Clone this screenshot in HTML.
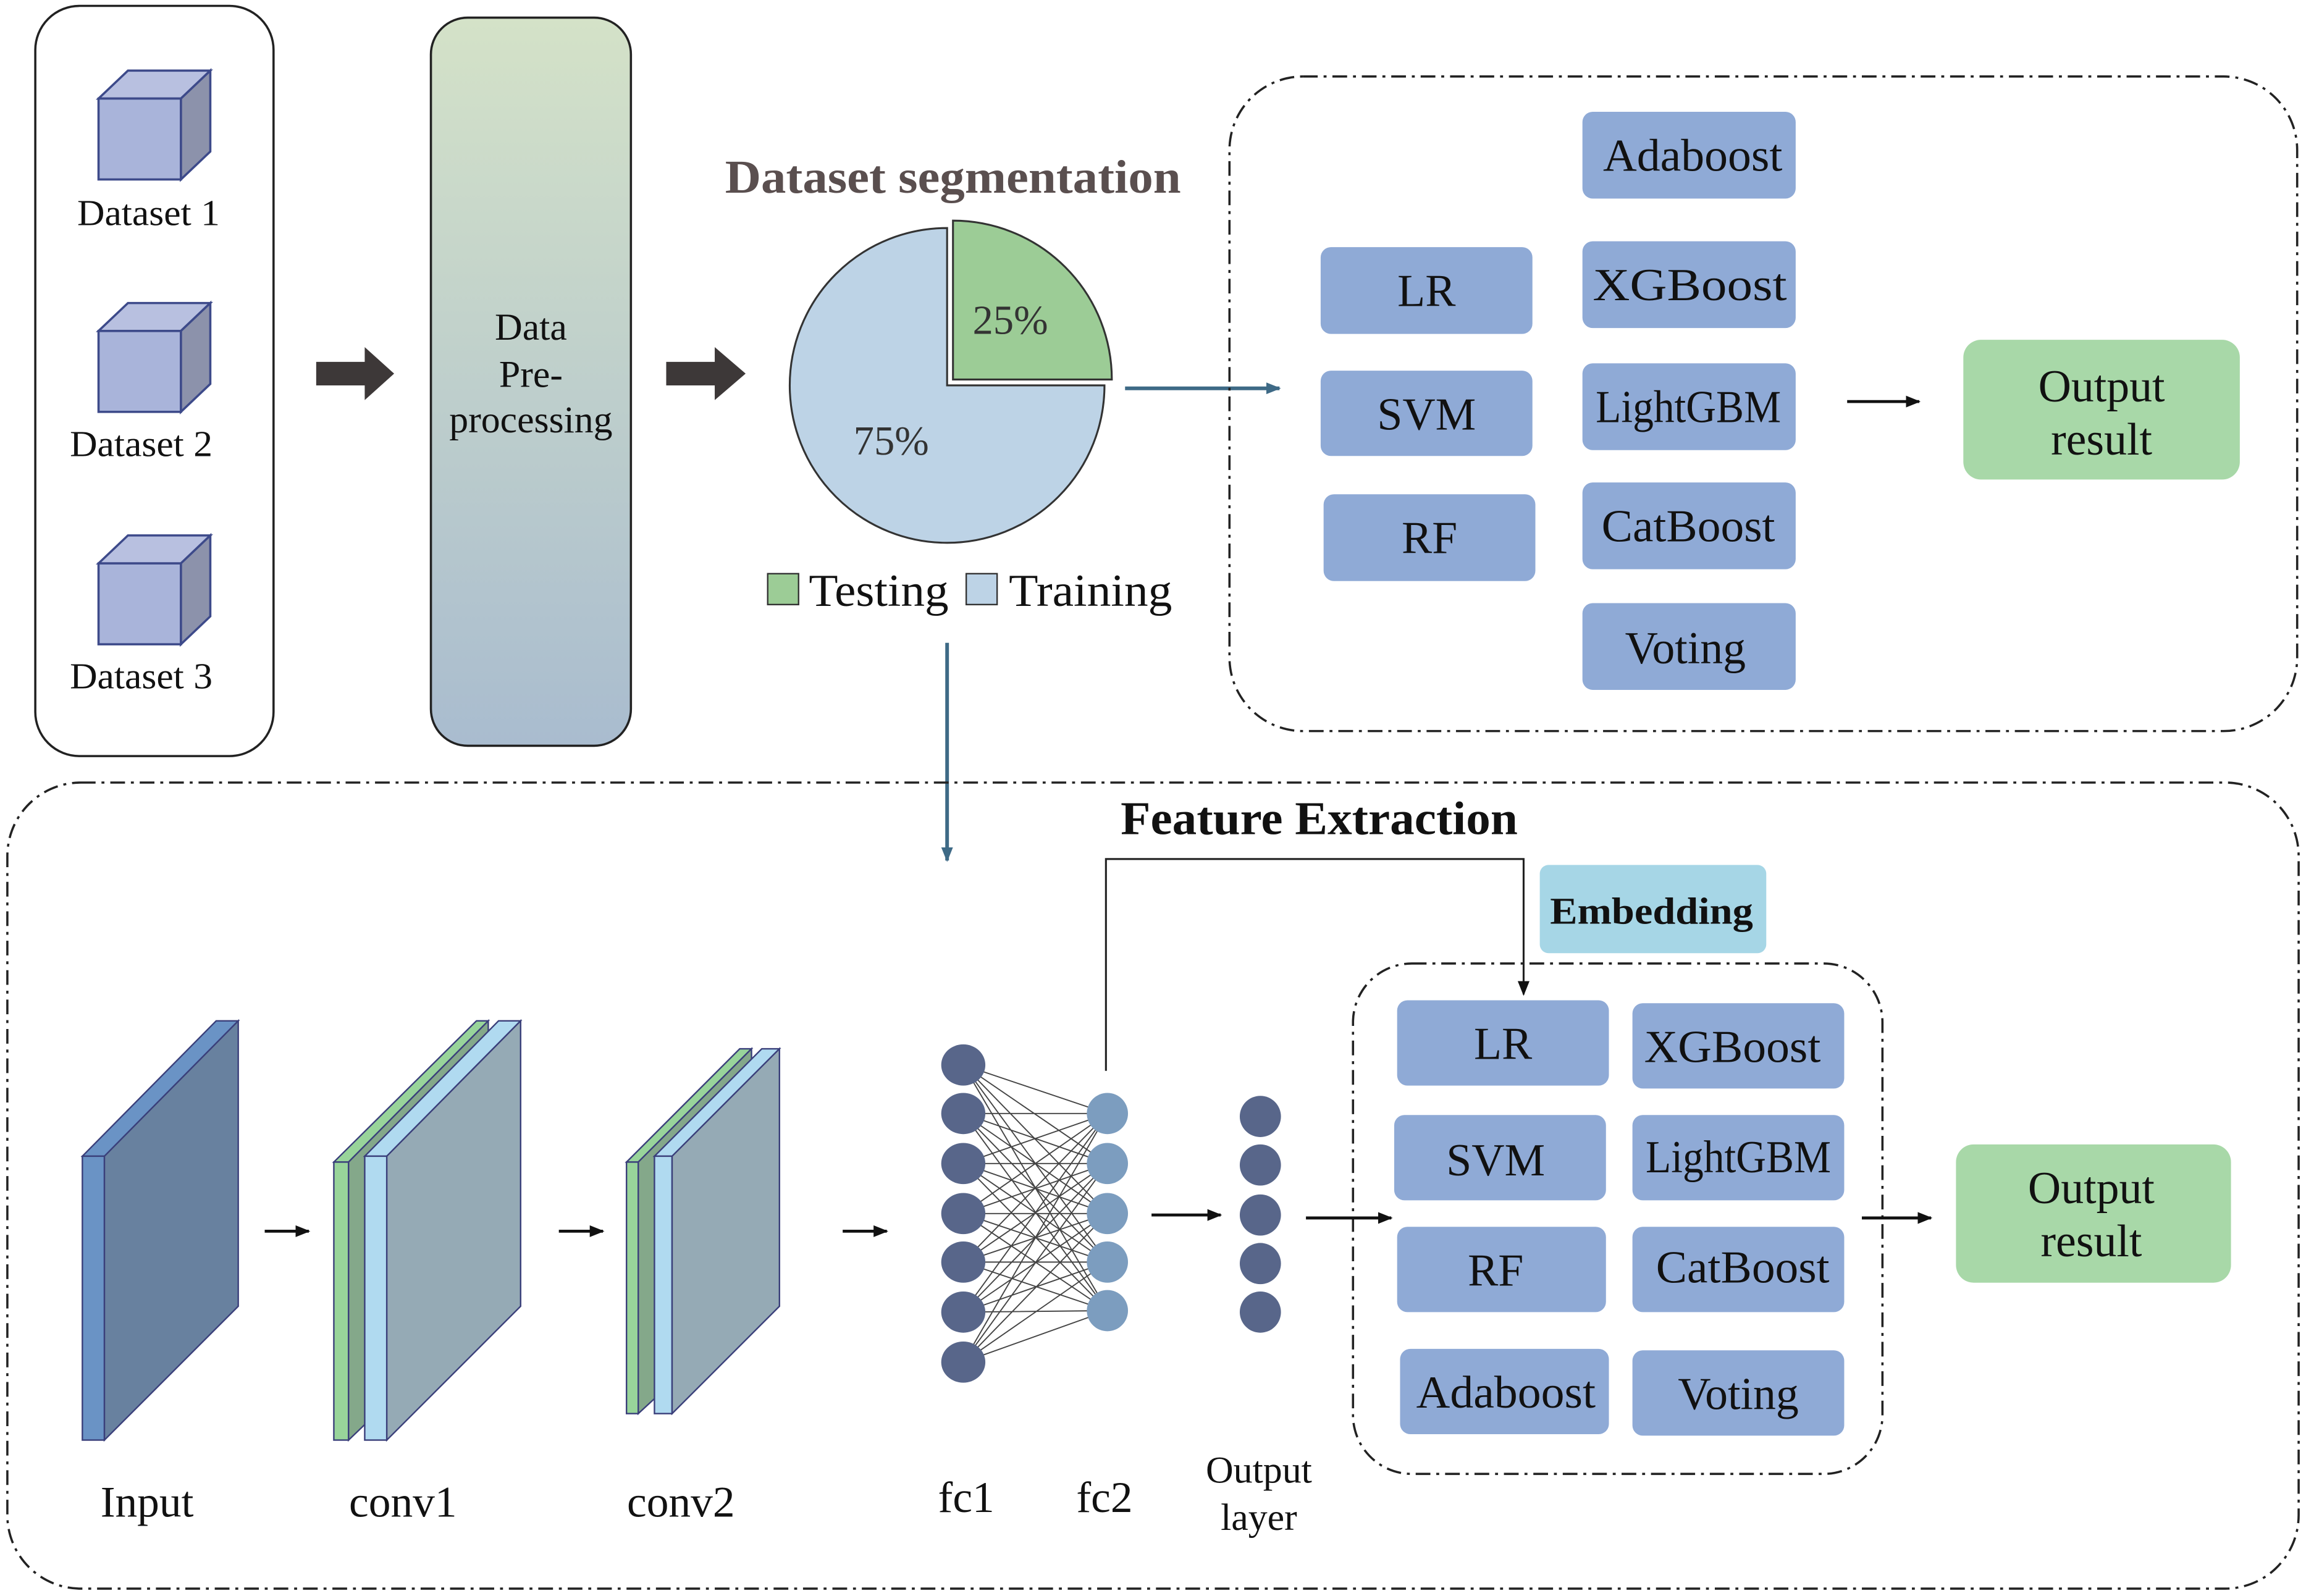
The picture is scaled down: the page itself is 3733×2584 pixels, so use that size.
<!DOCTYPE html>
<html><head><meta charset="utf-8"><style>html,body{margin:0;padding:0;background:#fff}svg{display:block}</style></head><body>
<svg width="3733" height="2584" viewBox="0 0 1568 1085" preserveAspectRatio="none" xmlns="http://www.w3.org/2000/svg" font-family="Liberation Serif, serif">
<defs>
<linearGradient id="pg" x1="0" y1="0" x2="0" y2="1"><stop offset="0" stop-color="#d4e2c8"/><stop offset="1" stop-color="#a9bccf"/></linearGradient>
<marker id="ab" markerWidth="10" markerHeight="10" refX="9" refY="5" orient="auto" markerUnits="userSpaceOnUse"><path d="M0,1 L10,5 L0,9 z" fill="#3e6a86"/></marker>
<marker id="ak" markerWidth="10" markerHeight="10" refX="9" refY="5" orient="auto" markerUnits="userSpaceOnUse"><path d="M0,1 L10,5 L0,9 z" fill="#111"/></marker>
</defs>
<rect width="1568" height="1085" fill="#fff"/>
<rect x="24" y="4" width="162" height="510" rx="30" fill="none" stroke="#222" stroke-width="1.5"/>
<g stroke="#3d4a8a" stroke-width="1.5">
<g id="cube"><polygon points="67,67 87,48 143,48 123,67" fill="#b8c0e0"/><polygon points="123,67 143,48 143,103 123,122" fill="#8c92ab"/><rect x="67" y="67" width="56" height="55" fill="#a9b4da"/></g>
<use href="#cube" y="158"/><use href="#cube" y="316"/>
</g>
<g font-size="25" text-anchor="middle" fill="#111">
<text x="101" y="153" textLength="97" lengthAdjust="spacingAndGlyphs">Dataset 1</text><text x="96" y="310" textLength="97" lengthAdjust="spacingAndGlyphs">Dataset 2</text><text x="96" y="468" textLength="97" lengthAdjust="spacingAndGlyphs">Dataset 3</text>
</g>
<g fill="#3d3838">
<polygon points="215,246 248,246 248,236 268,254 248,272 248,262 215,262"/>
<polygon points="453,246 486,246 486,236 507,254 486,272 486,262 453,262"/>
</g>
<rect x="293" y="12" width="136" height="495" rx="25" fill="url(#pg)" stroke="#222" stroke-width="1.5"/>
<g font-size="26" text-anchor="middle" fill="#111"><text x="361" y="231">Data</text><text x="361" y="263">Pre-</text><text x="361" y="294" textLength="111" lengthAdjust="spacingAndGlyphs">processing</text></g>
<text x="648" y="131" font-size="32" font-weight="bold" fill="#5a4f4f" text-anchor="middle" textLength="310" lengthAdjust="spacingAndGlyphs">Dataset segmentation</text>
<path d="M644,262 L644,155 A107,107 0 1 0 751,262 Z" fill="#bdd3e6" stroke="#333" stroke-width="1.3"/>
<path d="M648,258 L648,150 A108,108 0 0 1 756,258 Z" fill="#9ccc96" stroke="#333" stroke-width="1.3"/>
<text x="687" y="227" font-size="28" fill="#333" text-anchor="middle">25%</text>
<text x="606" y="309" font-size="28" fill="#333" text-anchor="middle">75%</text>
<rect x="522" y="390" width="21" height="21" fill="#9ccc96" stroke="#333"/>
<text x="550" y="412" font-size="31" fill="#111" textLength="95" lengthAdjust="spacingAndGlyphs">Testing</text>
<rect x="657" y="390" width="21" height="21" fill="#bdd3e6" stroke="#333"/>
<text x="686" y="412" font-size="31" fill="#111" textLength="111" lengthAdjust="spacingAndGlyphs">Training</text>
<line x1="765" y1="264" x2="870" y2="264" stroke="#3e6a86" stroke-width="2.5" marker-end="url(#ab)"/>
<line x1="644" y1="437" x2="644" y2="585" stroke="#3e6a86" stroke-width="2.5" marker-end="url(#ab)"/>
<rect x="836" y="52" width="726" height="445" rx="50" fill="none" stroke="#222" stroke-width="1.5" stroke-dasharray="10,4,2,4"/>
<g fill="#8faad6">
<rect x="898" y="168" width="144" height="59" rx="7"/><rect x="898" y="252" width="144" height="58" rx="7"/><rect x="900" y="336" width="144" height="59" rx="7"/>
<rect x="1076" y="76" width="145" height="59" rx="7"/><rect x="1076" y="164" width="145" height="59" rx="7"/><rect x="1076" y="247" width="145" height="59" rx="7"/><rect x="1076" y="328" width="145" height="59" rx="7"/><rect x="1076" y="410" width="145" height="59" rx="7"/>
</g>
<g font-size="31" text-anchor="middle" fill="#111">
<text x="970" y="208">LR</text><text x="970" y="292">SVM</text><text x="972" y="376">RF</text>
<text x="1151" y="116" textLength="122" lengthAdjust="spacingAndGlyphs">Adaboost</text><text x="1149" y="204" textLength="132" lengthAdjust="spacingAndGlyphs">XGBoost</text><text x="1148" y="287" textLength="126" lengthAdjust="spacingAndGlyphs">LightGBM</text><text x="1148" y="368" textLength="118" lengthAdjust="spacingAndGlyphs">CatBoost</text><text x="1146" y="451">Voting</text>
</g>
<line x1="1256" y1="273" x2="1305" y2="273" stroke="#111" stroke-width="2" marker-end="url(#ak)"/>
<rect x="1335" y="231" width="188" height="95" rx="12" fill="#a8d8a8"/>
<g font-size="31" text-anchor="middle" fill="#111"><text x="1429" y="273">Output</text><text x="1429" y="309">result</text></g>
<rect x="5" y="532" width="1558" height="548" rx="50" fill="none" stroke="#222" stroke-width="1.5" stroke-dasharray="10,4,2,4"/>
<text x="897" y="567" font-size="32" font-weight="bold" text-anchor="middle" fill="#111" textLength="270" lengthAdjust="spacingAndGlyphs">Feature Extraction</text>
<polyline points="752,728 752,584 1036,584 1036,676" fill="none" stroke="#222" stroke-width="1.3" marker-end="url(#ak)"/>
<rect x="1047" y="588" width="154" height="60" rx="6" fill="#a6d6e6"/>
<text x="1123" y="628" font-size="26" font-weight="bold" text-anchor="middle" fill="#111" textLength="138" lengthAdjust="spacingAndGlyphs">Embedding</text>
<rect x="920" y="655" width="360" height="347" rx="40" fill="none" stroke="#222" stroke-width="1.5" stroke-dasharray="10,4,2,4"/>
<g fill="#8faad6">
<rect x="950" y="680" width="144" height="58" rx="7"/><rect x="1110" y="682" width="144" height="58" rx="7"/>
<rect x="948" y="758" width="144" height="58" rx="7"/><rect x="1110" y="758" width="144" height="58" rx="7"/>
<rect x="950" y="834" width="142" height="58" rx="7"/><rect x="1110" y="834" width="144" height="58" rx="7"/>
<rect x="952" y="917" width="142" height="58" rx="7"/><rect x="1110" y="918" width="144" height="58" rx="7"/>
</g>
<g font-size="31" text-anchor="middle" fill="#111">
<text x="1022" y="720">LR</text><text x="1178" y="722" textLength="120" lengthAdjust="spacingAndGlyphs">XGBoost</text>
<text x="1017" y="799">SVM</text><text x="1182" y="797" textLength="126" lengthAdjust="spacingAndGlyphs">LightGBM</text>
<text x="1017" y="874">RF</text><text x="1185" y="872" textLength="118" lengthAdjust="spacingAndGlyphs">CatBoost</text>
<text x="1024" y="957" textLength="122" lengthAdjust="spacingAndGlyphs">Adaboost</text><text x="1182" y="958">Voting</text>
</g>
<line x1="1266" y1="828" x2="1313" y2="828" stroke="#111" stroke-width="2" marker-end="url(#ak)"/>
<rect x="1330" y="778" width="187" height="94" rx="12" fill="#a8d8a8"/>
<g font-size="31" text-anchor="middle" fill="#111"><text x="1422" y="818">Output</text><text x="1422" y="854">result</text></g>
<line x1="888" y1="828" x2="946" y2="828" stroke="#111" stroke-width="2" marker-end="url(#ak)"/>
<line x1="783" y1="826" x2="830" y2="826" stroke="#111" stroke-width="2" marker-end="url(#ak)"/>
<g stroke="#3a3f7a" stroke-width="1">
<polygon points="56,786 147,694 162,694 71,786" fill="#6a93c5"/>
<rect x="56" y="786" width="15" height="193" fill="#6a93c5"/>
<polygon points="71,786 162,694 162,888 71,979" fill="#68819f"/>
<polygon points="227,790 324,694 332,694 237,790" fill="#98d49a"/>
<rect x="227" y="790" width="10" height="189" fill="#98d49a"/>
<polygon points="237,790 332,694 332,888 237,979" fill="#84a88a"/>
<polygon points="248,786 339,694 354,694 263,786" fill="#b0daf0"/>
<rect x="248" y="786" width="15" height="193" fill="#b0daf0"/>
<polygon points="263,786 354,694 354,888 263,979" fill="#95aab5"/>
<polygon points="426,790 503,713 511,713 434,790" fill="#98d49a"/>
<rect x="426" y="790" width="8" height="171" fill="#98d49a"/>
<polygon points="434,790 511,713 511,890 434,961" fill="#84a88a"/>
<polygon points="445,786 518,713 530,713 457,786" fill="#b0daf0"/>
<rect x="445" y="786" width="12" height="175" fill="#b0daf0"/>
<polygon points="457,786 530,713 530,888 457,961" fill="#95aab5"/>
</g>
<g stroke="#111" stroke-width="2">
<line x1="180" y1="837" x2="210" y2="837" marker-end="url(#ak)"/>
<line x1="380" y1="837" x2="410" y2="837" marker-end="url(#ak)"/>
<line x1="573" y1="837" x2="603" y2="837" marker-end="url(#ak)"/>
</g>
<g stroke="#444" stroke-width="0.8">
<path d="M655,724L753,757M655,724L753,791M655,724L753,825M655,724L753,858M655,724L753,891
M655,757L753,757M655,757L753,791M655,757L753,825M655,757L753,858M655,757L753,891
M655,791L753,757M655,791L753,791M655,791L753,825M655,791L753,858M655,791L753,891
M655,825L753,757M655,825L753,791M655,825L753,825M655,825L753,858M655,825L753,891
M655,858L753,757M655,858L753,791M655,858L753,825M655,858L753,858M655,858L753,891
M655,892L753,757M655,892L753,791M655,892L753,825M655,892L753,858M655,892L753,891
M655,926L753,757M655,926L753,791M655,926L753,825M655,926L753,858M655,926L753,891"/>
</g>
<g fill="#58668a">
<ellipse cx="655" cy="724" rx="15" ry="14"/><ellipse cx="655" cy="757" rx="15" ry="14"/><ellipse cx="655" cy="791" rx="15" ry="14"/><ellipse cx="655" cy="825" rx="15" ry="14"/><ellipse cx="655" cy="858" rx="15" ry="14"/><ellipse cx="655" cy="892" rx="15" ry="14"/><ellipse cx="655" cy="926" rx="15" ry="14"/>
<ellipse cx="857" cy="759" rx="14" ry="14"/><ellipse cx="857" cy="792" rx="14" ry="14"/><ellipse cx="857" cy="826" rx="14" ry="14"/><ellipse cx="857" cy="859" rx="14" ry="14"/><ellipse cx="857" cy="892" rx="14" ry="14"/>
</g>
<g fill="#7c9dbf">
<ellipse cx="753" cy="757" rx="14" ry="14"/><ellipse cx="753" cy="791" rx="14" ry="14"/><ellipse cx="753" cy="825" rx="14" ry="14"/><ellipse cx="753" cy="858" rx="14" ry="14"/><ellipse cx="753" cy="891" rx="14" ry="14"/>
</g>
<g font-size="30" text-anchor="middle" fill="#111">
<text x="100" y="1031">Input</text><text x="274" y="1031">conv1</text><text x="463" y="1031">conv2</text><text x="657" y="1028">fc1</text><text x="751" y="1028">fc2</text>
<text x="856" y="1008" font-size="26">Output</text><text x="856" y="1040" font-size="26">layer</text>
</g>
</svg>
</body></html>
